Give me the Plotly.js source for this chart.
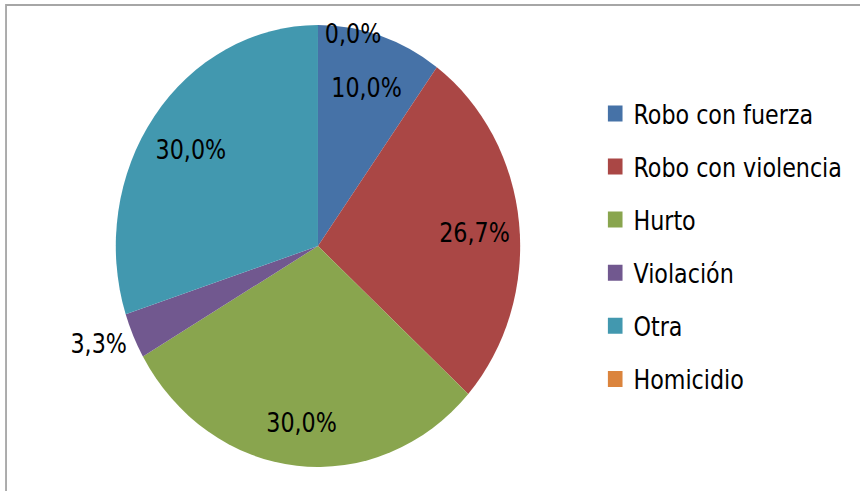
<!DOCTYPE html>
<html>
<head>
<meta charset="utf-8">
<script src="https://cdn.plot.ly/plotly-3.0.1.min.js"></script>
<style>
  html, body { margin: 0; padding: 0; background: #ffffff; overflow: hidden; }
  #wrap { width: 860px; height: 491px; overflow: hidden; position: relative; }
  #chart { width: 940px; height: 491px; transform: scaleX(0.915); transform-origin: 0 0; position: absolute; left: 0; top: 0; }
</style>
</head>
<body>
<div id="wrap"><div id="chart"></div></div>
<script>
const categories = ["Robo con fuerza", "Robo con violencia", "Hurto", "Violación", "Otra", "Homicidio"];
const values = [3, 8, 9, 1, 9, 0];
const colors = ["#4672A7", "#AA4745", "#89A54E", "#71588F", "#4298AF", "#DB843D"];
const labelInside = [true, true, true, false, true, false];

const FONT = '"DejaVu Sans Condensed", "DejaVu Sans", sans-serif';
const W = 940, H = 491;
const domX = [0.1346, 0.6048], domY = [0.0489, 0.949];

const pie = {
  type: "pie",
  labels: categories,
  values: values,
  sort: false,
  direction: "clockwise",
  rotation: 0,
  marker: { colors: colors, line: { width: 0 } },
  textinfo: "none",
  domain: { x: domX, y: domY },
  showlegend: false,
  hoverinfo: "label+percent"
};

const legendTraces = categories.map((c, i) => ({
  type: "scatter",
  mode: "markers",
  x: [null],
  y: [null],
  name: c,
  legendgroup: "g" + i,
  marker: { symbol: "square", size: 16, color: colors[i] },
  showlegend: true,
  hoverinfo: "skip"
}));

// data labels derived from the values (Excel-like placement)
const total = values.reduce((a, b) => a + b, 0);
const cx = (domX[0] + domX[1]) / 2, cy = (domY[0] + domY[1]) / 2;
const Rpx = Math.min((domX[1] - domX[0]) * W, (domY[1] - domY[0]) * H) / 2;
let cum = 0;
const annotations = values.map((v, i) => {
  const a0 = cum / total * 2 * Math.PI;
  cum += v;
  const a1 = cum / total * 2 * Math.PI;
  const mid = (a0 + a1) / 2;
  const txt = (v / total * 100).toFixed(1).replace(".", ",") + "%";
  const r = labelInside[i] ? 0.78 * Rpx : Rpx;
  const s = Math.sin(mid), c = Math.cos(mid);
  const ann = {
    xref: "paper", yref: "paper",
    x: cx + r * s / W,
    y: cy + r * c / H,
    text: txt,
    showarrow: false,
    font: { family: FONT, size: 27, color: "#000000" },
    yanchor: "middle"
  };
  if (labelInside[i]) {
    ann.xanchor = "center";
    ann.yshift = -5;
  } else {
    const left = s >= -1e-9;
    ann.xanchor = left ? "left" : "right";
    ann.xshift = left ? 5 : -5;
    ann.yshift = -8;
  }
  return ann;
});

const layout = {
  width: W,
  height: H,
  margin: { l: 0, r: 0, t: 0, b: 0 },
  paper_bgcolor: "#ffffff",
  plot_bgcolor: "rgba(0,0,0,0)",
  separators: ",.",
  showlegend: true,
  xaxis: { visible: false },
  yaxis: { visible: false },
  legend: {
    x: 0.694,
    xanchor: "left",
    y: 0.818,
    yanchor: "top",
    traceorder: "grouped",
    tracegroupgap: 15,
    font: { family: FONT, size: 27, color: "#000000" },
    bgcolor: "rgba(0,0,0,0)",
    itemclick: false,
    itemdoubleclick: false
  },
  annotations: annotations,
  shapes: [
    { type: "rect", xref: "paper", yref: "paper", x0: 0.007, x1: 1.2, y0: -0.2, y1: 0.99, line: { color: "#A6A6A6", width: 2 }, fillcolor: "rgba(0,0,0,0)" }
  ]
};

Plotly.newPlot("chart", [pie].concat(legendTraces), layout, { displayModeBar: false, staticPlot: true });
</script>
</body>
</html>
